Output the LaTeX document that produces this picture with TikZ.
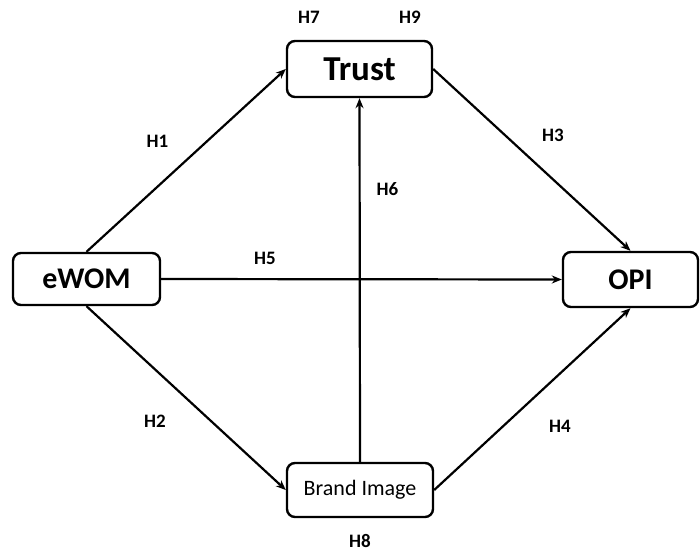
\documentclass[tikz,border=0pt]{standalone}
\usepackage{fontspec}
\setmainfont{Carlito}
\usetikzlibrary{arrows.meta}
\begin{document}
\begin{tikzpicture}[x=1pt,y=-1pt,
  box/.style={draw,line width=2.4pt,rounded corners=8pt,inner sep=0pt,font=\bfseries\fontsize{30}{32}\selectfont},
  link/.style={line width=2.2pt,-{Stealth[length=10pt,width=8pt]}},
  hlab/.style={font=\bfseries\fontsize{19}{21}\selectfont}]
\useasboundingbox (0,0) rectangle (700,551);
\node[box,minimum width=145pt,minimum height=56pt,font=\bfseries\fontsize{35}{38}\selectfont] (trust) at (359.5,69) {Trust};
\node[box,minimum width=147pt,minimum height=52pt] (ewom) at (86.5,279) {eWOM};
\node[box,minimum width=135pt,minimum height=55pt] (opi) at (630.5,279.5) {OPI};
\node[box,minimum width=146pt,minimum height=54pt,font=\fontsize{22}{24}\selectfont] (brand) at (360,490) {Brand Image};
\draw[link] (ewom.north) -- (trust.west);
\draw[link] (trust.east) -- (opi.north);
\draw[link] (ewom.east) -- (opi.west);
\draw[link] (ewom.south) -- (brand.west);
\draw[link] (brand.east) -- (opi.south);
\draw[link] (brand.north) -- (trust.south);
\node[hlab] (h1) at (157.5,141) {H1};
\node[hlab] (h2) at (155,421) {H2};
\node[hlab] (h3) at (553,135) {H3};
\node[hlab] (h4) at (560,426) {H4};
\node[hlab] (h5) at (265,258.5) {H5};
\node[hlab] (h6) at (387.5,189) {H6};
\node[hlab] (h7) at (309,17) {H7};
\node[hlab] (h8) at (360,541) {H8};
\node[hlab] (h9) at (410,17) {H9};
\end{tikzpicture}
\end{document}
